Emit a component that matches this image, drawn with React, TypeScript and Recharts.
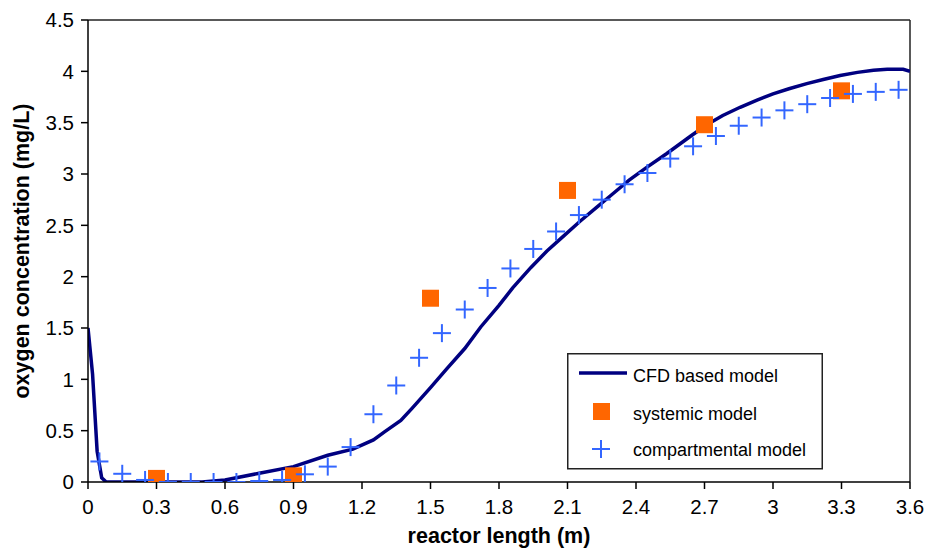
import React from "react";
import {
  ComposedChart,
  Line,
  Scatter,
  XAxis,
  YAxis,
  ReferenceLine,
  Legend,
} from "recharts";

// ---- data ----
const cfdLength = [
  0, 0.02, 0.04, 0.06, 0.08, 0.2, 0.3, 0.5, 0.6, 0.75, 0.9, 1.05, 1.16, 1.25, 1.3,
  1.37, 1.42, 1.5, 1.57, 1.65, 1.72, 1.8, 1.86, 1.94, 2.01, 2.08, 2.155, 2.23,
  2.3, 2.37, 2.45, 2.535, 2.64, 2.71, 2.78, 2.856, 2.93, 3.0, 3.07, 3.148, 3.22,
  3.294, 3.37, 3.44, 3.5, 3.57, 3.6,
];
const cfdOxygen = [
  1.5, 1.05, 0.3, 0.04, 0.0, 0.0, 0.0, 0.0, 0.02, 0.085, 0.15, 0.26, 0.32, 0.41, 0.49,
  0.6, 0.72, 0.92, 1.1, 1.3, 1.51, 1.72, 1.89, 2.09, 2.25, 2.39, 2.54, 2.68,
  2.81, 2.94, 3.07, 3.2, 3.37, 3.48, 3.57, 3.65, 3.72, 3.78, 3.83, 3.88, 3.92,
  3.96, 3.99, 4.01, 4.02, 4.02, 4.0,
];

const systemicLength = [0.3, 0.9, 1.5, 2.1, 2.7, 3.3];
const systemicOxygen = [0.035, 0.06, 1.79, 2.84, 3.48, 3.81];

const compartmentalLength = [
  0.05, 0.15, 0.25, 0.35, 0.45, 0.55, 0.65, 0.75, 0.85, 0.95, 1.05, 1.15, 1.25,
  1.35, 1.45, 1.55, 1.65, 1.75, 1.85, 1.95, 2.05, 2.15, 2.25, 2.35, 2.45, 2.55,
  2.65, 2.75, 2.85, 2.95, 3.05, 3.15, 3.25, 3.35, 3.45, 3.55,
];
const compartmentalOxygen = [
  0.2, 0.08, 0.02, 0.0, 0.0, 0.0, 0.0, 0.01, 0.02, 0.075, 0.15, 0.34, 0.66,
  0.94, 1.21, 1.45, 1.68, 1.89, 2.08, 2.27, 2.44, 2.6, 2.75, 2.9, 3.01, 3.15,
  3.27, 3.37, 3.47, 3.55, 3.62, 3.68, 3.74, 3.78, 3.8, 3.82,
];

const xTicks = [0, 0.3, 0.6, 0.9, 1.2, 1.5, 1.8, 2.1, 2.4, 2.7, 3, 3.3, 3.6];
const yTicks = [0, 0.5, 1, 1.5, 2, 2.5, 3, 3.5, 4, 4.5];

const seriesNames = ["CFD based model", "systemic model", "compartmental model"];

// ---- tables built from the arrays ----
const cfdData = cfdLength.map((x, i) => ({ x, y: cfdOxygen[i] }));
const systemicData = systemicLength.map((x, i) => ({ x, y: systemicOxygen[i] }));
const compartmentalData = compartmentalLength.map((x, i) => ({
  x,
  y: compartmentalOxygen[i],
}));

const LINE_COLOR = "#000080";
const SQUARE_COLOR = "#FF6600";
const PLUS_COLOR = "#3366FF";
const FONT = "Arial, 'Liberation Sans', Helvetica, sans-serif";

const SquareShape = (props: any) => {
  const { cx, cy } = props;
  if (cx == null || cy == null) return null;
  const s = 17;
  return <rect x={cx - s / 2} y={cy - s / 2} width={s} height={s} fill={SQUARE_COLOR} />;
};

const PlusShape = (props: any) => {
  const { cx, cy } = props;
  if (cx == null || cy == null) return null;
  const h = 9;
  return (
    <g stroke={PLUS_COLOR} strokeWidth={2}>
      <line x1={cx - h} y1={cy} x2={cx + h} y2={cy} />
      <line x1={cx} y1={cy - h} x2={cx} y2={cy + h} />
    </g>
  );
};

const LegendBox = () => (
  <svg width={256} height={117} style={{ display: "block", overflow: "visible" }}>
    <rect x={0.75} y={0.75} width={254.5} height={115} fill="#fff" stroke="#222" strokeWidth={1.5} />
    <line x1={12} y1={20} x2={60} y2={20} stroke={LINE_COLOR} strokeWidth={3.5} />
    <rect x={26} y={50} width={17} height={17} fill={SQUARE_COLOR} />
    <g stroke={PLUS_COLOR} strokeWidth={2}>
      <line x1={25} y1={96} x2={43} y2={96} />
      <line x1={34} y1={87} x2={34} y2={105} />
    </g>
    <g fontFamily={FONT} fontSize={18} fill="#000">
      <text x={66} y={29}>{seriesNames[0]}</text>
      <text x={66} y={67}>{seriesNames[1]}</text>
      <text x={66} y={103}>{seriesNames[2]}</text>
    </g>
  </svg>
);

const YTitle = (props: any) => {
  const vb = props.viewBox || {};
  const x = 29;
  const y = (vb.y ?? 20) + (vb.height ?? 462) / 2;
  return (
    <text
      x={x}
      y={y}
      transform={`rotate(-90 ${x} ${y})`}
      textAnchor="middle"
      fontFamily={FONT}
      fontWeight="bold"
      fontSize={21.5}
      fill="#000"
    >
      oxygen concentration (mg/L)
    </text>
  );
};

const XTitle = (props: any) => {
  const vb = props.viewBox || {};
  const x = (vb.x ?? 88) + (vb.width ?? 822) / 2;
  return (
    <text
      x={x}
      y={543}
      textAnchor="middle"
      fontFamily={FONT}
      fontWeight="bold"
      fontSize={21.5}
      fill="#000"
    >
      reactor length (m)
    </text>
  );
};

export default function App() {
  const tickStyle = { fill: "#000", fontSize: 20.5, fontFamily: FONT };
  return (
    <div style={{ width: 928, height: 549, background: "#fff" }}>
      <style>{"body{margin:0;background:#fff;}"}</style>
      <ComposedChart
        width={928}
        height={549}
        margin={{ top: 20, right: 18, bottom: 0, left: 0 }}
        style={{ fontFamily: FONT }}
      >
        <XAxis
          type="number"
          dataKey="x"
          domain={[0, 3.6]}
          ticks={xTicks}
          interval={0}
          allowDataOverflow
          height={67}
          tickSize={7}
          tickMargin={10}
          tick={tickStyle}
          axisLine={{ stroke: "#000", strokeWidth: 1.5 }}
          tickLine={{ stroke: "#000", strokeWidth: 1.5 }}
          label={<XTitle />}
        />
        <YAxis
          type="number"
          dataKey="y"
          domain={[0, 4.5]}
          ticks={yTicks}
          interval={0}
          allowDataOverflow
          width={88}
          tickSize={7}
          tickMargin={7}
          tick={tickStyle}
          axisLine={{ stroke: "#000", strokeWidth: 1.5 }}
          tickLine={{ stroke: "#000", strokeWidth: 1.5 }}
          label={<YTitle />}
        />
        <ReferenceLine y={4.5} stroke="#222" strokeWidth={1.5} />
        <ReferenceLine x={3.6} stroke="#222" strokeWidth={1.5} />
        <Line
          data={cfdData}
          dataKey="y"
          name={seriesNames[0]}
          type="linear"
          stroke={LINE_COLOR}
          strokeWidth={3.5}
          dot={false}
          activeDot={false}
          isAnimationActive={false}
        />
        <Scatter
          data={systemicData}
          dataKey="y"
          name={seriesNames[1]}
          shape={<SquareShape />}
          isAnimationActive={false}
        />
        <Scatter
          data={compartmentalData}
          dataKey="y"
          name={seriesNames[2]}
          shape={<PlusShape />}
          isAnimationActive={false}
        />
        <Legend
          layout="vertical"
          align="center"
          verticalAlign="middle"
          wrapperStyle={{ left: 567, top: 353, width: 256, height: 117 }}
          content={() => <LegendBox />}
        />
      </ComposedChart>
    </div>
  );
}
